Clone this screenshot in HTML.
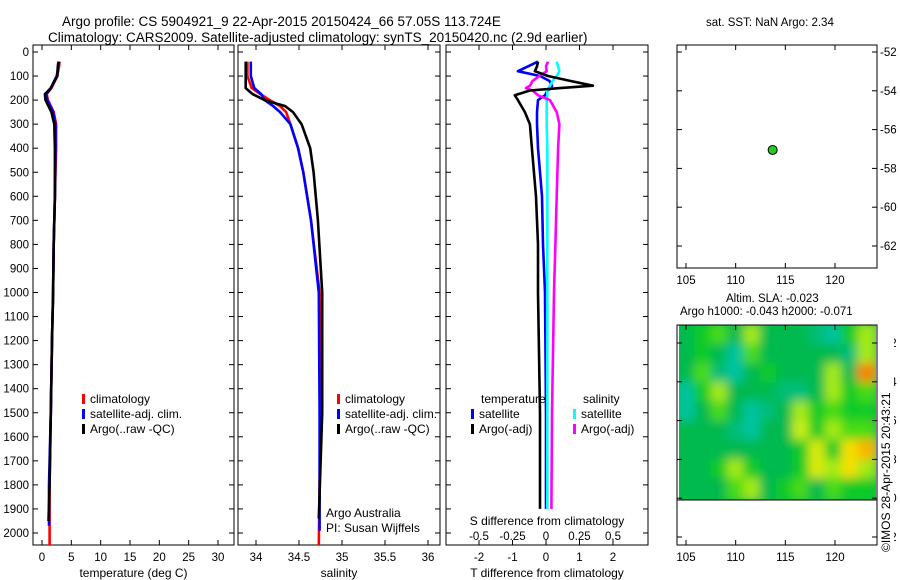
<!DOCTYPE html>
<html><head><meta charset="utf-8"><style>
body{margin:0;background:#fff;}
svg{display:block;font-family:"Liberation Sans",sans-serif;}
text{fill:#000;}
</style></head><body>
<svg id="c" width="900" height="580" viewBox="0 0 900 580">
<defs><filter id="blur" filterUnits="userSpaceOnUse" x="650" y="300" width="260" height="230"><feGaussianBlur stdDeviation="5"/></filter>
<clipPath id="mapclip"><rect x="679" y="325" width="197" height="175"/></clipPath></defs>
<text x="62" y="26" font-size="13.5">Argo profile: CS 5904921_9 22-Apr-2015 20150424_66 57.05S 113.724E</text>
<text x="48" y="42" font-size="13.5">Climatology: CARS2009. Satellite-adjusted climatology: synTS_20150420.nc (2.9d earlier)</text>
<text x="706" y="26" font-size="11.5">sat. SST: NaN Argo: 2.34</text>
<text x="726" y="302" font-size="11.5">Altim. SLA: -0.023</text>
<text x="680" y="315" font-size="11.5">Argo h1000: -0.043 h2000: -0.071</text>
<g id="g"></g>
<rect x="878" y="328" width="16" height="228" fill="#fff"/>
<text transform="translate(890,552) rotate(-90)" font-size="12">©IMOS 28-Apr-2015 20:43:21</text>
</svg>
<script>
// ---- data ----
const depthTicks=[0,100,200,300,400,500,600,700,800,900,1000,1100,1200,1300,1400,1500,1600,1700,1800,1900,2000];
const tempTicks=[0,5,10,15,20,25,30];
const salTicks=[34,34.5,35,35.5,36];
const salTickLabels=["34","34.5","35","35.5","36"];
const tdiffTicks=[-2,-1,0,1,2];
const sdiffTicks=[-0.5,-0.25,0,0.25,0.5];
const sdiffTickLabels=["-0.5","-0.25","0","0.25","0.5"];
const tDepths=[40,60,100,150,175,200,250,300,400,600,800,1000,1200,1500,1800,2000];
const argoT=[2.8,2.7,2.6,1.5,0.5,0.6,1.6,2.1,2.2,2.2,2.0,1.9,1.7,1.5,1.3,1.1];
const climT=[3.0,2.9,2.6,1.6,0.8,1.0,2.0,2.4,2.4,2.2,2.0,1.9,1.7,1.5,1.3,1.3];
const satT=[2.9,2.8,2.5,1.5,0.7,0.9,1.9,2.3,2.3,2.2,2.0,1.9,1.7,1.5,1.2,1.2];
const sDepths=[40,100,150,175,200,225,250,300,400,500,700,1000,1500,2000];
const argoS=[33.88,33.88,33.88,33.96,34.1,34.34,34.43,34.53,34.63,34.67,34.72,34.77,34.77,34.73];
const climS=[33.9,33.9,33.95,34.05,34.16,34.28,34.35,34.4,34.49,34.55,34.64,34.74,34.75,34.73];
const satS=[33.94,33.94,33.98,34.06,34.1,34.2,34.28,34.4,34.49,34.55,34.64,34.73,34.74,34.74];
const dDepths=[40,60,80,100,120,140,150,160,180,200,250,300,400,600,800,1000,1500,1900];
const argoTdiff=[-0.24,-0.27,-0.33,0.06,0.72,1.4,0.42,-0.48,-0.93,-0.84,-0.63,-0.48,-0.42,-0.3,-0.24,-0.24,-0.18,-0.18];
const satTdiff=[-0.24,-0.54,-0.84,-0.18,0.1,0.18,0.15,0.05,-0.03,-0.24,-0.27,-0.27,-0.24,-0.12,-0.09,-0.03,0,0];
const satSdiff=[0.08,0.09,0.1,0.08,0.05,0.03,0.02,0.01,0.01,0.005,0.005,0.005,0.01,0.01,0.01,0.01,0.01,0.01];
const argoSdiff=[0.015,0.0,0.005,-0.05,-0.1,-0.12,-0.15,-0.1,-0.06,0.03,0.08,0.1,0.09,0.08,0.07,0.06,0.045,0.04];
const lonTicks=[105,110,115,120];
const latTicks=[-52,-54,-56,-58,-60,-62];
const argoLon=113.724, argoLat=-57.05;
const slaGrid=[
[0.45,0.5,0.55,0.45,0.6,0.45,0.45,0.45,0.4,0.35,0.5,0.6],
[0.45,0.5,0.45,0.35,0.55,0.45,0.45,0.45,0.45,0.45,0.4,0.6],
[0.45,0.55,0.4,0.35,0.45,0.5,0.45,0.45,0.45,0.6,0.45,0.85],
[0.35,0.5,0.6,0.45,0.45,0.45,0.4,0.4,0.45,0.6,0.5,0.55],
[0.35,0.45,0.55,0.45,0.35,0.4,0.45,0.6,0.5,0.55,0.5,0.5],
[0.45,0.45,0.45,0.4,0.35,0.45,0.45,0.62,0.5,0.6,0.55,0.55],
[0.45,0.45,0.45,0.45,0.45,0.45,0.45,0.5,0.65,0.5,0.7,0.78],
[0.45,0.45,0.5,0.6,0.5,0.45,0.45,0.5,0.65,0.6,0.7,0.6],
[0.45,0.45,0.45,0.55,0.6,0.45,0.5,0.55,0.45,0.55,0.5,0.5]];
const slaLonEdges=[104.3,124.0];
const slaLatEdges=[-51.1,-60.0];

// ---- helpers ----
const NS="http://www.w3.org/2000/svg";
const G=document.getElementById('g');
function mk(tag,attrs,parent){const e=document.createElementNS(NS,tag);for(const k in attrs)e.setAttribute(k,attrs[k]);(parent||G).appendChild(e);return e;}
function lin(d0,d1,r0,r1){return v=>r0+(v-d0)*(r1-r0)/(d1-d0);}
const Y=lin(0,2000,52,533);
const PT=45,PB=545;
const XT=lin(0,30,42,218), XS=lin(34,36,256,428), XD=lin(-2,2,479,613), XSD=lin(-0.5,0.5,479,613);

function box(x0,x1,y0,y1,name){const r=mk('rect',{x:x0,y:y0,width:x1-x0,height:y1-y0,fill:'none',stroke:'#000','stroke-width':1});

return r;}
function text(x,y,s,anchor,size,name){const t=mk('text',{x:x,y:y,'font-size':size||12,'text-anchor':anchor||'start'});t.textContent=s;

return t;}
function line(xs,ys,col,w,name){let d='';for(let i=0;i<xs.length;i++)d+=(i?'L':'M')+xs[i].toFixed(1)+' '+ys[i].toFixed(1);
const p=mk('path',{d:d,fill:'none',stroke:col,'stroke-width':w||3,'stroke-linejoin':'round'});

return p;}
function prof(X,vals,deps,col,name){return line(vals.map(X),deps.map(Y),col,2.6,name);}
function depthAxis(x0,x1,labels){depthTicks.forEach(d=>{const y=Y(d);
mk('line',{x1:x0,x2:x0+5,y1:y,y2:y,stroke:'#000'});mk('line',{x1:x1-5,x2:x1,y1:y,y2:y,stroke:'#000'});
if(labels)text(x0-4,y+4,String(d),'end',11.5,'depth-tick-label');});}
function xAxis(X,ticks,labels,x0,x1,lab,name){ticks.forEach((t,i)=>{const x=X(t);
mk('line',{x1:x,x2:x,y1:PB,y2:PB-5,stroke:'#000'});mk('line',{x1:x,x2:x,y1:PT,y2:PT+5,stroke:'#000'});
text(x,PB+16,labels?labels[i]:String(t),'middle',11.5,name+'-tick-label');});
text((x0+x1)/2,PB+32,lab,'middle',12,name+'-title');}
function legItem(x,y,col,s,name){mk('rect',{x:x,y:y-9,width:3,height:10,fill:col});text(x+8,y,s,'start',12,name);}

// ---- panel 1 temperature ----
box(33,234,PT,PB,'temperature-panel');
depthAxis(33,234,true);
xAxis(XT,tempTicks,null,33,234,'temperature (deg C)','temperature-axis');
prof(XT,climT,tDepths.map((d,i)=>i==tDepths.length-1?2050:d),'#f00','climatology-temperature-line');
prof(XT,satT,tDepths.map((d,i)=>i==tDepths.length-1?1970:d),'#00f','satellite-temperature-line');
prof(XT,argoT,tDepths.map((d,i)=>i==tDepths.length-1?1950:d),'#000','argo-temperature-line');
legItem(82,403,'#f00','climatology','legend-climatology');
legItem(82,418,'#00f','satellite-adj. clim.','legend-satellite-adj');
legItem(82,433,'#000','Argo(..raw -QC)','legend-argo');

// ---- panel 2 salinity ----
box(238,440,PT,PB,'salinity-panel');
depthAxis(238,440,false);
xAxis(XS,salTicks,salTickLabels,238,440,'salinity','salinity-axis');
prof(XS,climS,sDepths.map((d,i)=>i==sDepths.length-1?2050:d),'#f00','climatology-salinity-line');
prof(XS,satS,sDepths.map((d,i)=>i==sDepths.length-1?1990:d),'#00f','satellite-salinity-line');
prof(XS,argoS,sDepths.map((d,i)=>i==sDepths.length-1?1940:d),'#000','argo-salinity-line');
legItem(337,403,'#f00','climatology','legend-climatology-2');
legItem(337,418,'#00f','satellite-adj. clim.','legend-satellite-adj-2');
legItem(337,433,'#000','Argo(..raw -QC)','legend-argo-2');
text(326,517,'Argo Australia','start',12,'argo-australia-label');
text(326,532,'PI: Susan Wijffels','start',12,'pi-label');

// ---- panel 3 differences ----
box(446,648,PT,PB,'difference-panel');
depthAxis(446,648,false);
tdiffTicks.forEach(t=>{const x=XD(t);mk('line',{x1:x,x2:x,y1:PB,y2:PB-5,stroke:'#000'});mk('line',{x1:x,x2:x,y1:PT,y2:PT+5,stroke:'#000'});
text(x,PB+16,String(t),'middle',11.5,'tdiff-tick-label');});
text(547,PB+32,'T difference from climatology','middle',12,'tdiff-axis-title');
sdiffTicks.forEach((t,i)=>text(XSD(t),540,sdiffTickLabels[i],'middle',11.5,'sdiff-tick-label'));
text(547,525,'S difference from climatology','middle',12,'sdiff-axis-title');
prof(XD,satTdiff,dDepths,'#00f','satellite-tdiff-line');
prof(XSD,satSdiff,dDepths,'#0ff','satellite-sdiff-line');
prof(XSD,argoSdiff,dDepths,'#f0f','argo-sdiff-line');
prof(XD,argoTdiff,dDepths,'#000','argo-tdiff-line');
text(481,403,'temperature','start',12,'legend-temperature-heading');
legItem(471,418,'#00f','satellite','legend-t-satellite');
legItem(471,433,'#000','Argo(-adj)','legend-t-argo');
text(583,403,'salinity','start',12,'legend-salinity-heading');
legItem(573,418,'#0ff','satellite','legend-s-satellite');
legItem(573,433,'#f0f','Argo(-adj)','legend-s-argo');

// ---- map panels ----
const MX=lin(105,120,686,835);
const MY1=lin(-52,-62,52,246), MY2=lin(-52,-62,343,537);
function mapAxes(y0,y1,MY,name){box(677,877,y0,y1,name);
lonTicks.forEach(t=>{const x=MX(t);mk('line',{x1:x,x2:x,y1:y1,y2:y1-5,stroke:'#000'});mk('line',{x1:x,x2:x,y1:y0,y2:y0+5,stroke:'#000'});
text(x,y1+16,String(t),'middle',11.5,name+'-lon-label');});
latTicks.forEach(t=>{const y=MY(t);if(y<y0||y>y1)return;mk('line',{x1:877,x2:872,y1:y,y2:y,stroke:'#000'});mk('line',{x1:677,x2:682,y1:y,y2:y,stroke:'#000'});
text(880,y+4,String(t),'start',11.5,name+'-lat-label');});}
mapAxes(45,268,MY1,'sst-map');
const dot=mk('circle',{cx:MX(argoLon),cy:MY1(argoLat),r:4.5,fill:'#2c2',stroke:'#000','stroke-width':1});



function cmap(v){const stops=[[0.3,[0,200,200]],[0.45,[0,185,80]],[0.52,[20,210,20]],[0.62,[200,240,20]],[0.72,[255,220,0]],[0.85,[250,130,0]]];
if(v<=stops[0][0])return 'rgb('+stops[0][1]+')';
for(let i=1;i<stops.length;i++){if(v<=stops[i][0]){const a=stops[i-1],b=stops[i],f=(v-a[0])/(b[0]-a[0]);
return 'rgb('+a[1].map((c,j)=>Math.round(c+(b[1][j]-c)*f)).join(',')+')';}}
return 'rgb('+stops[stops.length-1][1]+')';}
const hm=mk('g',{'clip-path':'url(#mapclip)'});
const hmInner=mk('g',{filter:'url(#blur)'},hm);
const nr=slaGrid.length,nc=slaGrid[0].length;
const lonStep=(slaLonEdges[1]-slaLonEdges[0])/nc, latStep=(slaLatEdges[1]-slaLatEdges[0])/nr;
mk('rect',{x:660,y:310,width:240,height:210,fill:cmap(0.47)},hmInner);
slaGrid.forEach((row,r)=>row.forEach((v,c)=>{
const x0=MX(slaLonEdges[0]+c*lonStep)-1,x1=MX(slaLonEdges[0]+(c+1)*lonStep)+1;
const y0=MY2(slaLatEdges[0]+r*latStep)-1,y1=MY2(slaLatEdges[0]+(r+1)*latStep)+1;
const e=mk('rect',{x:x0,y:y0,width:x1-x0,height:y1-y0,fill:cmap(v)},hmInner);

}));
mk('line',{x1:677,x2:877,y1:500,y2:500,stroke:'#000'});
mapAxes(325,545,MY2,'sla-map');
</script>
</body></html>
